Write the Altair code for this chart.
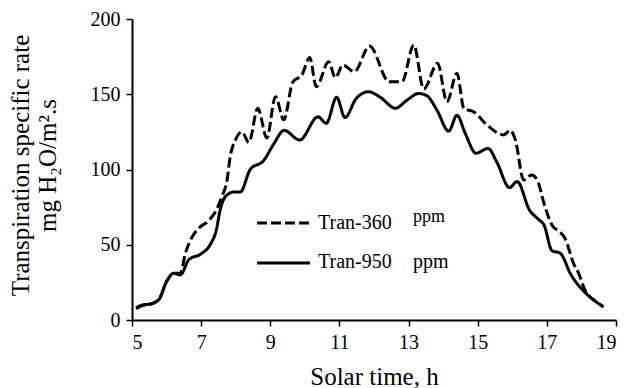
import altair as alt
import pandas as pd

# Tran-360 ppm (dashed)
t360_h = [5.12, 5.3, 5.53, 5.77, 6.01, 6.2, 6.4, 6.54, 6.69, 6.93, 7.22, 7.44, 7.6, 7.75,
          7.84, 7.99, 8.18, 8.38, 8.64, 8.9, 9.15, 9.39, 9.65, 9.92, 10.14, 10.33, 10.69,
          10.88, 11.1, 11.43, 11.87, 12.44, 12.81, 13.15, 13.44, 13.84, 14.11, 14.4, 14.6,
          14.88, 15.27, 15.75, 15.94, 16.09, 16.33, 16.55, 16.7, 16.95, 17.15, 17.38, 17.53,
          17.77, 17.92, 18.1, 18.4, 18.64]
t360_v = [7.5, 9.5, 10.5, 13.5, 26, 31, 31, 44, 53, 61, 66, 73, 82, 93,
          108.5, 119.5, 125, 118, 140.7, 121, 148.4, 133, 158, 163, 174.5, 155, 171.6,
          161, 169.4, 165, 182, 158.3, 158.3, 182.7, 153.5, 170.6, 145, 164, 140.5,
          138.4, 129.6, 123, 126, 119.6, 93, 96.3, 94, 75, 63, 58.5, 54,
          37.7, 31, 20, 12.5, 8.8]

# Tran-950 ppm (solid)
t950_h = [5.12, 5.3, 5.53, 5.77, 6.01, 6.2, 6.4, 6.64, 7.0, 7.26, 7.44, 7.55, 7.7, 7.94,
          8.13, 8.42, 8.81, 9.1, 9.4, 9.85, 10.38, 10.62, 10.92, 11.16, 11.48, 11.84,
          12.18, 12.62, 12.95, 13.29, 13.53, 13.82, 14.16, 14.4, 14.64, 14.95, 15.3, 15.55,
          15.92, 16.14, 16.5, 16.75, 16.92, 17.15, 17.38, 17.7, 18.13, 18.4, 18.64]
t950_v = [8, 10, 10.6, 13.3, 26, 31, 30, 40, 44, 50, 60, 73, 82, 85,
          85, 100, 106, 117, 126, 119.6, 135, 130.7, 148, 134.5, 147, 151.7,
          148, 140.7, 146, 150.5, 149, 139.5, 125.5, 136, 124, 110.8, 114, 105,
          88, 92, 73, 67, 63, 46, 44.5, 30, 17.7, 12.5, 8.8]

series_names = ["Tran-360", "Tran-950"]
unit_label = "ppm"
x_ticks = [5, 7, 9, 11, 13, 15, 17, 19]
y_ticks = [0, 50, 100, 150, 200]

df = pd.concat([
    pd.DataFrame({"h": t360_h, "v": t360_v, "series": series_names[0]}),
    pd.DataFrame({"h": t950_h, "v": t950_v, "series": series_names[1]}),
])

FONT = "Liberation Serif"

lines = alt.Chart(df).mark_line(color="black", strokeWidth=3, interpolate="monotone").encode(
    x=alt.X("h:Q", scale=alt.Scale(domain=[5, 19], nice=False),
            axis=alt.Axis(values=x_ticks, title="Solar time, h", grid=False,
                          labelFont=FONT, titleFont=FONT,
                          titleY=64, titleBaseline="alphabetic")),
    y=alt.Y("v:Q", scale=alt.Scale(domain=[0, 200], nice=False),
            axis=alt.Axis(values=y_ticks, grid=False, labelFont=FONT, titleFont=FONT,
                          title=["Transpiration specific rate", "mg H\u2082O/m\u00b2.s"],
                          titleX=-112, titleY=146, titleAngle=-90, titleAlign="center",
                          titleBaseline="middle", titleLineHeight=27)),
    strokeDash=alt.StrokeDash("series:N",
                              scale=alt.Scale(domain=series_names, range=[[10, 4], [1, 0]]),
                              legend=None),
    detail="series:N",
)

leg_dash = alt.Chart().mark_rule(color="black", strokeWidth=3, strokeDash=[10, 4]).encode(
    x=alt.value(125), x2=alt.value(178), y=alt.value(204))
leg_solid = alt.Chart().mark_rule(color="black", strokeWidth=3).encode(
    x=alt.value(125), x2=alt.value(178), y=alt.value(244))
leg_t1 = alt.Chart().mark_text(font=FONT, fontSize=20, align="left", baseline="alphabetic",
                               color="black", text=series_names[0]).encode(
    x=alt.value(186), y=alt.value(210))
leg_t2 = alt.Chart().mark_text(font=FONT, fontSize=20, align="left", baseline="alphabetic",
                               color="black", text=series_names[1]).encode(
    x=alt.value(186), y=alt.value(249))
leg_u1 = alt.Chart().mark_text(font=FONT, fontSize=18, align="left", baseline="alphabetic",
                               color="black", text=unit_label).encode(
    x=alt.value(281), y=alt.value(203))
leg_u2 = alt.Chart().mark_text(font=FONT, fontSize=20, align="left", baseline="alphabetic",
                               color="black", text=unit_label).encode(
    x=alt.value(281), y=alt.value(249))

chart = alt.layer(lines, leg_dash, leg_solid, leg_t1, leg_t2, leg_u1, leg_u2).properties(
    width=484, height=301,
    autosize=alt.AutoSizeParams(type="none"),
    padding={"left": 132, "top": 19, "right": 11, "bottom": 68},
    background="white",
).configure(font=FONT).configure_view(stroke=None).configure_axis(
    domainColor="black", domainWidth=2, tickColor="black", tickWidth=1.5, tickSize=6,
    labelFont=FONT, labelFontSize=20, labelColor="black", labelPadding=6,
    titleFont=FONT, titleFontSize=25, titleColor="black", titleFontWeight="normal",
)

chart.save("out.html", embed_options={"renderer": "svg", "actions": False})
